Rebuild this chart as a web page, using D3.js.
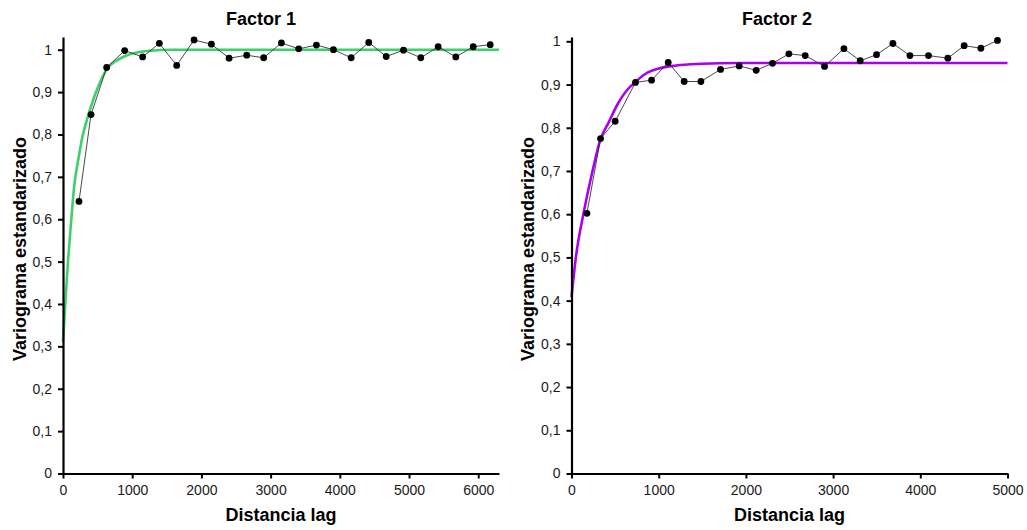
<!DOCTYPE html>
<html>
<head>
<meta charset="utf-8">
<script src="https://cdn.jsdelivr.net/npm/d3@7/dist/d3.min.js"></script>
<style>
  html, body { margin: 0; padding: 0; background: #fff; }
  svg { display: block; font-family: "Liberation Sans", Arial, sans-serif; }
</style>
</head>
<body>
<svg id="chart" width="1027" height="530"></svg>
<script>
// Empirical semivariogram, factor 1 (lag distance, standardized semivariance)
const lag1 = [231, 405, 631, 891, 1151, 1392, 1643, 1894, 2144, 2400, 2655, 2900, 3156,
              3406, 3662, 3908, 4164, 4418, 4670, 4920, 5170, 5421, 5676, 5927, 6173];
const gamma1 = [0.642, 0.847, 0.958, 0.998, 0.983, 1.015, 0.963, 1.023, 1.013, 0.980, 0.987, 0.981, 1.016,
                1.002, 1.011, 1.000, 0.981, 1.017, 0.984, 0.999, 0.981, 1.007, 0.983, 1.007, 1.012];

// Fitted model curve, factor 1
const modelLag1 = [0, 40, 72, 115, 163, 220, 275, 347, 443, 540, 636, 780, 925, 1214, 1600, 2200, 6300];
const modelGamma1 = [0.31, 0.42, 0.50, 0.59, 0.68, 0.74, 0.79, 0.835, 0.885, 0.925, 0.955, 0.975, 0.987, 0.997, 1.0, 1.0, 1.0];

// Empirical semivariogram, factor 2
const lag2 = [177, 333, 501, 734, 918, 1109, 1292, 1484, 1709, 1923, 2118, 2305, 2493,
              2680, 2902, 3124, 3311, 3498, 3686, 3881, 4094, 4316, 4503, 4695, 4885];
const gamma2 = [0.602, 0.775, 0.815, 0.905, 0.910, 0.951, 0.907, 0.907, 0.935, 0.943, 0.933, 0.949, 0.971,
                0.967, 0.942, 0.983, 0.955, 0.969, 0.995, 0.967, 0.967, 0.961, 0.990, 0.984, 1.002];

// Fitted model curve, factor 2
const modelLag2 = [0, 50, 146, 241, 330, 425, 530, 640, 711, 850, 1000, 1200, 1500, 1900, 2500, 5000];
const modelGamma2 = [0.408, 0.50, 0.61, 0.70, 0.772, 0.812, 0.855, 0.888, 0.902, 0.925, 0.937, 0.944, 0.948, 0.95, 0.95, 0.95];

// Axis ticks
const xTicks1 = [0, 1000, 2000, 3000, 4000, 5000, 6000];
const xTicks2 = [0, 1000, 2000, 3000, 4000, 5000];
const yTicks = [0, 0.1, 0.2, 0.3, 0.4, 0.5, 0.6, 0.7, 0.8, 0.9, 1];

const titles = ["Factor 1", "Factor 2"];
const xLabel = "Distancia lag";
const yLabel = "Variograma estandarizado";

const FONT = '"Liberation Sans", Arial, sans-serif';
const svg = d3.select("#chart");
const fmt = v => (v === 0 || v === 1) ? String(v) : d3.format(".1f")(v).replace(".", ",");

const panels = [
  { title: titles[0], lag: lag1, gamma: gamma1, mLag: modelLag1, mGamma: modelGamma1,
    xDomain: [0, 6300], yMax: 1.03, xTicks: xTicks1, color: "#3dcf6b",
    left: 63, right: 499, titleX: 261, yLabelX: 26 },
  { title: titles[1], lag: lag2, gamma: gamma2, mLag: modelLag2, mGamma: modelGamma2,
    xDomain: [0, 5000], yMax: 1.01, xTicks: xTicks2, color: "#aa00f2",
    left: 571.5, right: 1007.5, titleX: 777, yLabelX: 534 }
];

const plotTop = 37, plotBottom = 473.5;

panels.forEach(p => {
  const x = d3.scaleLinear().domain(p.xDomain).range([p.left, p.right]);
  const y = d3.scaleLinear().domain([0, p.yMax]).range([plotBottom, plotTop]);
  const g = svg.append("g");

  // model curve
  const model = p.mLag.map((h, i) => [h, p.mGamma[i]]);
  g.append("path")
    .datum(model)
    .attr("fill", "none")
    .attr("stroke", p.color)
    .attr("stroke-width", 2.6)
    .attr("d", d3.line().x(d => x(d[0])).y(d => y(d[1])).curve(d3.curveMonotoneX));

  // empirical points joined by a thin line
  const pts = p.lag.map((h, i) => [h, p.gamma[i]]);
  g.append("path")
    .datum(pts)
    .attr("fill", "none")
    .attr("stroke", "#333")
    .attr("stroke-width", 0.9)
    .attr("d", d3.line().x(d => x(d[0])).y(d => y(d[1])));
  g.selectAll("circle.pt")
    .data(pts)
    .join("circle")
    .attr("class", "pt")
    .attr("cx", d => x(d[0]))
    .attr("cy", d => y(d[1]))
    .attr("r", 3.4)
    .attr("fill", "#000");

  // axes
  const xAxis = g.append("g")
    .attr("transform", `translate(0,${plotBottom})`)
    .call(d3.axisBottom(x).tickValues(p.xTicks).tickFormat(d3.format("d"))
      .tickSize(5).tickSizeOuter(0).tickPadding(7));
  const yAxis = g.append("g")
    .attr("transform", `translate(${p.left},0)`)
    .call(d3.axisLeft(y).tickValues(yTicks).tickFormat(fmt)
      .tickSize(5).tickSizeOuter(0).tickPadding(6));
  [xAxis, yAxis].forEach(a => {
    a.attr("font-family", FONT).attr("font-size", 14);
    a.select(".domain").attr("stroke", "#000").attr("stroke-width", 2.2);
    a.selectAll(".tick line").attr("stroke", "#000").attr("stroke-width", 2);
    a.selectAll(".tick text").attr("fill", "#1a1a1a");
  });

  // titles and axis labels
  g.append("text")
    .attr("x", p.titleX).attr("y", 25)
    .attr("text-anchor", "middle")
    .attr("font-size", 18).attr("font-weight", "bold")
    .text(p.title);
  g.append("text")
    .attr("x", (p.left + p.right) / 2).attr("y", 521)
    .attr("text-anchor", "middle")
    .attr("font-size", 18).attr("font-weight", "bold")
    .text(xLabel);
  g.append("text")
    .attr("transform", `translate(${p.yLabelX},249) rotate(-90)`)
    .attr("text-anchor", "middle")
    .attr("font-size", 18).attr("font-weight", "bold")
    .text(yLabel);
});
</script>
</body>
</html>
